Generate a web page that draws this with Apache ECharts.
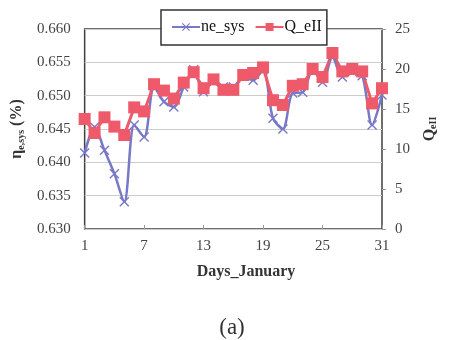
<!DOCTYPE html>
<html>
<head>
<meta charset="utf-8">
<script src="https://cdn.jsdelivr.net/npm/echarts@6/dist/echarts.min.js"></script>
<style>
  html, body { margin: 0; padding: 0; background: #fff; }
  #chart { width: 451px; height: 340px; }
</style>
</head>
<body>
<div id="chart"></div>
<script>
// days of January
const days = ["1","2","3","4","5","6","7","8","9","10","11","12","13","14","15","16",
  "17","18","19","20","21","22","23","24","25","26","27","28","29","30","31"];

// ne_sys (left axis)
const neSys = [0.6414, 0.6453, 0.6418, 0.6383, 0.6341, 0.6456, 0.6438, 0.6513, 0.6491, 0.6483,
  0.6513, 0.6539, 0.6506, 0.6521, 0.6513, 0.6513, 0.6529, 0.6523, 0.6539, 0.6466,
  0.6450, 0.6504, 0.6505, 0.6539, 0.6520, 0.6558, 0.6528, 0.6536, 0.6530, 0.6456, 0.6501];

// Q_eII (right axis)
const qEII = [13.75, 12.0, 13.96, 12.8, 11.75, 15.2, 14.7, 18.1, 17.3, 16.3,
  18.3, 19.6, 17.6, 18.7, 17.4, 17.4, 19.25, 19.5, 20.2, 16.1,
  15.5, 17.9, 18.1, 20.0, 19.0, 22.0, 19.7, 20.0, 19.7, 15.7, 17.6];

const leftTicks = [0.630, 0.635, 0.640, 0.645, 0.650, 0.655, 0.660];
const rightTicks = [0, 5, 10, 15, 20, 25];

const FONT = "Liberation Serif";
const BLUE = "#7878c8";
const RED = "#ee5a6a";
// X marker
const CROSS = "path://M0,1L1,0L5,4L9,0L10,1L6,5L10,9L9,10L5,6L1,10L0,9L4,5Z";

const chart = echarts.init(document.getElementById("chart"));

const nameRich = {
  a: { fontFamily: FONT, fontSize: 16, fontWeight: "bold", color: "#333", lineHeight: 18 },
  b: { fontFamily: FONT, fontSize: 10, fontWeight: "bold", color: "#333",
    verticalAlign: "bottom", lineHeight: 18, padding: [8, 0, 0, 0] },
};

chart.setOption({
  animation: false,
  textStyle: { fontFamily: FONT },
  grid: {
    left: 76, right: 69, top: 29, bottom: 111,
    show: true, borderColor: "#404040", borderWidth: 1.5,
    backgroundColor: "#fff",
  },
  legend: {
    left: 161, top: 10,
    padding: [9, 5, 10, 10],
    itemWidth: 28, itemHeight: 10, itemGap: 10,
    borderColor: "#333", borderWidth: 1.5,
    backgroundColor: "#fff",
    z: 10,
    textStyle: { fontFamily: FONT, fontSize: 16, color: "#111", padding: [0, 0, 0, -4] },
    data: ["ne_sys", "Q_eII"],
  },
  xAxis: {
    type: "category",
    data: days,
    boundaryGap: false,
    axisLine: { show: false },
    axisTick: { show: true, inside: true, interval: 5, length: 4, lineStyle: { color: "#999" } },
    axisLabel: { interval: 5, margin: 10, fontFamily: FONT, fontSize: 15, color: "#444" },
    splitLine: { show: false },
  },
  yAxis: [
    {
      type: "value",
      min: leftTicks[0], max: leftTicks[leftTicks.length - 1], interval: 0.005,
      axisLine: { show: false },
      axisTick: { show: false },
      axisLabel: { margin: 14, fontFamily: FONT, fontSize: 15, color: "#444",
        formatter: v => v.toFixed(3) },
      splitLine: { lineStyle: { color: "#cccccc", width: 1 } },
      name: "{a|η}{b|e,sys}{a| (%)}",
      nameLocation: "middle",
      nameRotate: 90,
      nameGap: 58,
      nameTextStyle: { rich: nameRich },
    },
    {
      type: "value",
      min: rightTicks[0], max: rightTicks[rightTicks.length - 1], interval: 5,
      position: "right",
      axisLine: { show: false },
      axisTick: { show: true, length: 4, lineStyle: { color: "#999" } },
      axisLabel: { margin: 13, fontFamily: FONT, fontSize: 15, color: "#444" },
      splitLine: { show: false },
      name: "{a|Q}{b|eII}",
      nameLocation: "middle",
      nameRotate: 90,
      nameGap: 37,
      nameTextStyle: { rich: nameRich },
    },
  ],
  graphic: [
    {
      type: "text", x: 246, y: 264, z: 10,
      style: { text: "Days_January", fontFamily: FONT, fontSize: 16, fontWeight: "bold",
        fill: "#333", align: "center" },
    },
    {
      type: "text", x: 232, y: 316, z: 10,
      style: { text: "(a)", fontFamily: FONT, fontSize: 23, fill: "#333", align: "center" },
    },
  ],
  series: [
    {
      name: "ne_sys",
      type: "line",
      yAxisIndex: 0,
      data: neSys,
      smooth: 0.3,
      showAllSymbol: true,
      symbol: CROSS,
      symbolSize: 10,
      itemStyle: { color: BLUE },
      lineStyle: { color: BLUE, width: 2.5 },
    },
    {
      name: "Q_eII",
      type: "line",
      yAxisIndex: 1,
      data: qEII,
      showAllSymbol: true,
      symbol: "rect",
      symbolSize: 12,
      itemStyle: { color: RED },
      lineStyle: { color: RED, width: 3 },
    },
  ],
});
</script>
</body>
</html>
